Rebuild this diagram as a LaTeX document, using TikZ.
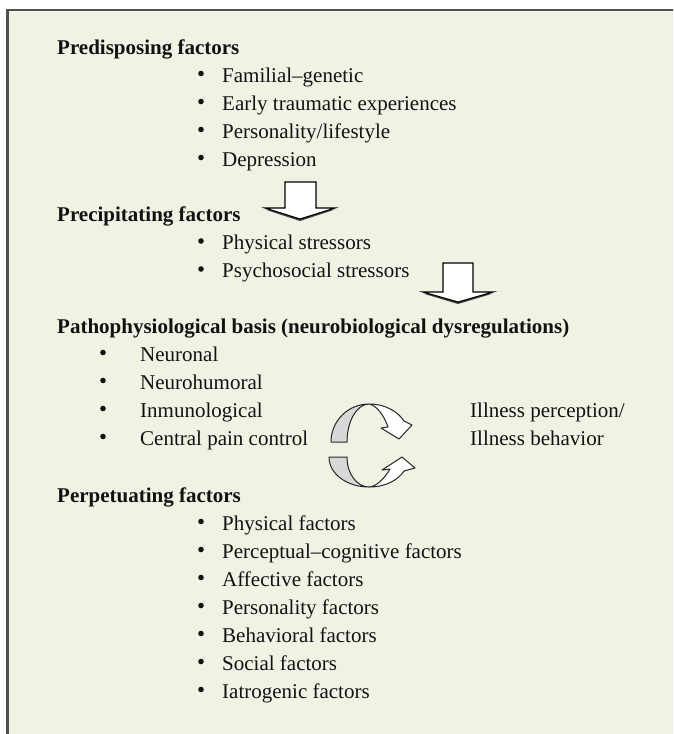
\documentclass[tikz,border=0pt]{standalone}
\usepackage{fontspec}
\setmainfont{Liberation Serif}
\definecolor{panel}{RGB}{240,243,228}
\definecolor{ink}{RGB}{18,18,18}
\definecolor{framegray}{RGB}{80,80,80}
\definecolor{ribbonback}{RGB}{216,216,216}
\begin{document}
\begin{tikzpicture}[x=1pt,y=-1pt,
  txt/.style={anchor=base west, inner sep=0pt, text=ink, font=\fontsize{21}{25}\selectfont},
  hd/.style={anchor=base west, inner sep=0pt, text=ink, font=\fontsize{21}{25}\selectfont\bfseries},
  bul/.style={circle, fill=ink, inner sep=0pt, minimum size=5.6pt},
  blockarrow/.style={fill=white, draw=black, line width=1.1pt, line join=miter},
  arrowshadow/.style={fill=black!75},
  ribbon/.style={draw=black!85, line width=1pt, line join=round}]
\useasboundingbox (0,0) rectangle (673,734);
\fill[white] (0,0) rectangle (673,734);
% panel with its frame (right and bottom edges run off the page)
\begin{scope}
\clip (0,0) rectangle (673,734);
\fill[panel] (7.5,10) rectangle (700,760);
\draw[framegray, line width=2.4pt] (7.5,760) -- (7.5,10) -- (700,10);
\end{scope}

% predisposing factors
\node[hd] (pre) at (57,54) {Predisposing factors};
\foreach \t [count=\i] in {Familial–genetic, Early traumatic experiences, Personality/lifestyle, Depression} {
  \node[bul] (preb\i) at (201,{54+28*\i-8.5}) {};
  \node[txt] (pre\i) at (222,{54+28*\i}) {\t};
}

% precipitating factors
\node[hd] (prc) at (57,221.5) {Precipitating factors};
\foreach \t [count=\i] in {Physical stressors, Psychosocial stressors} {
  \node[bul] (prcb\i) at (201,{221.5+28*\i-8.5}) {};
  \node[txt] (prc\i) at (222,{221.5+28*\i}) {\t};
}

% pathophysiological basis
\node[hd] (pat) at (57,333) {Pathophysiological basis (neurobiological dysregulations)};
\foreach \t [count=\i] in {Neuronal, Neurohumoral, Inmunological, Central pain control} {
  \node[bul] (patb\i) at (103,{333+28*\i-8.5}) {};
  \node[txt] (pat\i) at (140,{333+28*\i}) {\t};
}
\node[txt] (ill1) at (470,417) {Illness perception/};
\node[txt] (ill2) at (470,445) {Illness behavior};

% perpetuating factors
\node[hd] (per) at (57,502) {Perpetuating factors};
\foreach \t [count=\i] in {Physical factors, Perceptual–cognitive factors, Affective factors, Personality factors, Behavioral factors, Social factors, Iatrogenic factors} {
  \node[bul] (perb\i) at (201,{502+28*\i-8.5}) {};
  \node[txt] (per\i) at (222,{502+28*\i}) {\t};
}

% block arrows between the stages
\fill[arrowshadow] (265,209.5) -- (335,209.5) -- (300,221) -- cycle;
\draw[blockarrow] (285,182) -- (316,182) -- (316,208) -- (335,208) -- (300,219) -- (265,208) -- (285,208) -- cycle;
\fill[arrowshadow] (423,293.5) -- (493,293.5) -- (458,304) -- cycle;
\draw[blockarrow] (443,263) -- (473,263) -- (473,292) -- (493,292) -- (458,302) -- (423,292) -- (443,292) -- cycle;

% circular feedback arrows: upper ribbon
\filldraw[ribbon, fill=ribbonback] (331,442) .. controls (331,421) and (348,404) .. (369,404)
   .. controls (357,404) and (347,421) .. (347,442) -- cycle;
\filldraw[ribbon, fill=white] (369,404) .. controls (386,404) and (398,412) .. (404,421)
   -- (412,425) -- (399,439) -- (381,428) -- (388,427)
   .. controls (384,415) and (376,405) .. (369,404) -- cycle;
% lower ribbon
\filldraw[ribbon, fill=ribbonback] (329,457) .. controls (329,474) and (347,487) .. (369,487)
   .. controls (357,487) and (347,474) .. (347,457) -- cycle;
\filldraw[ribbon, fill=white] (369,487) .. controls (386,487) and (398,480) .. (404,471)
   -- (415,468) -- (402,457) -- (382,470) -- (390,469)
   .. controls (385,478) and (376,487) .. (369,487) -- cycle;
\end{tikzpicture}
\end{document}
